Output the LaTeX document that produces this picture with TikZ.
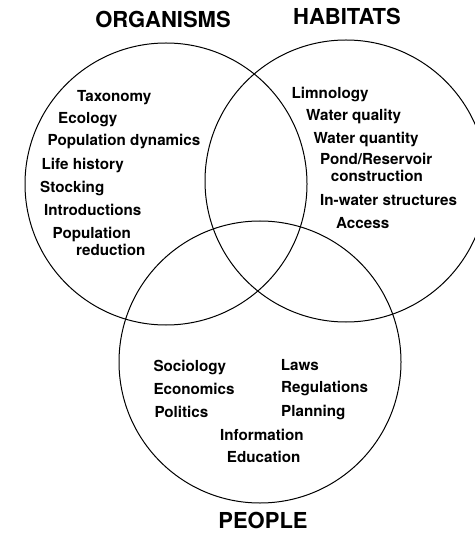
\documentclass[tikz,border=0pt]{standalone}
\usepackage{fontspec}
\setmainfont{TeX Gyre Heros}
\usetikzlibrary{positioning}

\begin{document}
\begin{tikzpicture}[
    x=1pt, y=-1pt,
    set_circle/.style={circle, draw, line width=1pt, minimum size=282pt, inner sep=0pt},
    set_title/.style={font=\fontsize{22}{26}\selectfont\bfseries, inner sep=0pt},
    topic/.style={anchor=base west, inner sep=0pt, font=\fontsize{15.2}{17}\selectfont\bfseries}
]
\useasboundingbox (0,0) rectangle (474,534);

% The three sets
\node[set_circle] (org) at (166,184) {};
\node[set_circle] (hab) at (346,181) {};
\node[set_circle] (ppl) at (260,362) {};

% Set names
\node[set_title, above=15pt of org, anchor=base, xshift=-3pt] (orgtitle) {ORGANISMS};
\node[set_title, above=15pt of hab, anchor=base, xshift=1pt] (habtitle) {HABITATS};
\node[set_title, below=8pt of ppl, xshift=3pt] (ppltitle) {PEOPLE};

% Organisms
\node[topic] (tax) at (77,101.5) {Taxonomy};
\node[topic] (eco) at (58,124) {Ecology};
\node[topic] (popdyn) at (47.5,146) {Population dynamics};
\node[topic] (life) at (41.5,169.3) {Life history};
\node[topic] (stock) at (40,192.5) {Stocking};
\node[topic] (intro) at (44,215.3) {Introductions};
\node[topic] (popred) at (52.5,238.3) {Population};
\node[topic] (popred2) at (76,255) {reduction};

% Habitats
\node[topic] (limn) at (291.5,98.3) {Limnology};
\node[topic] (wqual) at (306,120.7) {Water quality};
\node[topic] (wquant) at (313.3,143.3) {Water quantity};
\node[topic] (pond) at (320,165) {Pond/Reservoir};
\node[topic] (pond2) at (330.7,181.7) {construction};
\node[topic] (inwater) at (320,206) {In-water structures};
\node[topic] (access) at (336,229) {Access};

% People
\node[topic] (soc) at (153.3,371.7) {Sociology};
\node[topic] (econ) at (153.3,394.3) {Economics};
\node[topic] (pol) at (154.3,417.3) {Politics};
\node[topic] (laws) at (280.7,370) {Laws};
\node[topic] (regs) at (281,392.3) {Regulations};
\node[topic] (plan) at (281,416) {Planning};
\node[topic] (info) at (220,440) {Information};
\node[topic] (edu) at (226.7,462.7) {Education};

\end{tikzpicture}
\end{document}
